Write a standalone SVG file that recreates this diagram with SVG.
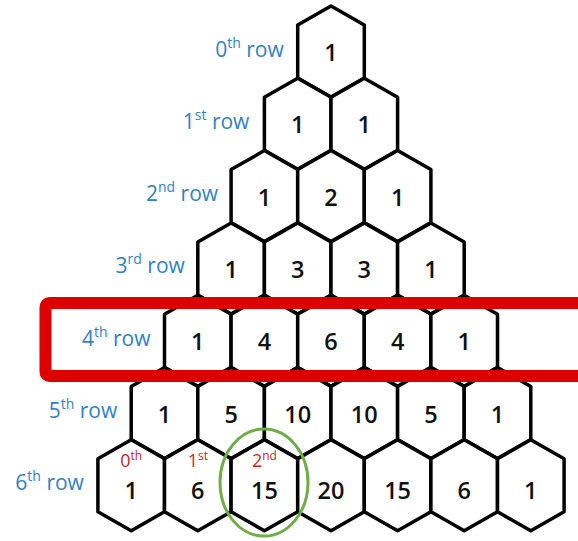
<svg xmlns="http://www.w3.org/2000/svg" width="578" height="541" viewBox="0 0 578 541">
<style>
.hex{fill:#fff;stroke:#000;stroke-width:3.5;stroke-linejoin:round}
.num{font-family:"Open Sans","Noto Sans",sans-serif;font-weight:600;font-size:23.5px;fill:#111;text-anchor:middle}
.lbl{font-family:"Open Sans","Noto Sans",sans-serif;font-size:21px;fill:#2f82c8;text-anchor:end}
.sup{font-size:14px}
.idx{font-family:"Open Sans","Noto Sans",sans-serif;font-size:18px;fill:#cc1f25;text-anchor:middle}
.isup{font-size:12px}
</style>
<defs>
<path id="hx" class="hex" d="M0,-45.5 L33.3,-26.5 L33.3,26.5 L0,45.5 L-33.3,26.5 L-33.3,-26.5 Z"/>
</defs>
<rect width="578" height="541" fill="#fff"/>

<g id="labels">
<text class="lbl" x="283.7" y="56.5">0<tspan class="sup" dy="-9">th</tspan><tspan dy="9"> row</tspan></text>
<text class="lbl" x="249.4" y="128.8">1<tspan class="sup" dy="-9">st</tspan><tspan dy="9"> row</tspan></text>
<text class="lbl" x="218.1" y="201.1">2<tspan class="sup" dy="-9">nd</tspan><tspan dy="9"> row</tspan></text>
<text class="lbl" x="184.8" y="273.4">3<tspan class="sup" dy="-9">rd</tspan><tspan dy="9"> row</tspan></text>
<text class="lbl" x="150.5" y="345.7">4<tspan class="sup" dy="-9">th</tspan><tspan dy="9"> row</tspan></text>
<text class="lbl" x="117.2" y="418">5<tspan class="sup" dy="-9">th</tspan><tspan dy="9"> row</tspan></text>
<text class="lbl" x="83.9" y="490.3">6<tspan class="sup" dy="-9">th</tspan><tspan dy="9"> row</tspan></text>
</g>

<g id="row0">
<g id="r0c0"><use href="#hx" x="331" y="51.5"/><text class="num" x="331" y="61">1</text></g>
</g>
<g id="row1">
<g id="r1c0"><use href="#hx" x="297.7" y="123.8"/><text class="num" x="297.7" y="133.3">1</text></g>
<g id="r1c1"><use href="#hx" x="364.3" y="123.8"/><text class="num" x="364.3" y="133.3">1</text></g>
</g>
<g id="row2">
<g id="r2c0"><use href="#hx" x="264.4" y="196.1"/><text class="num" x="264.4" y="205.6">1</text></g>
<g id="r2c1"><use href="#hx" x="331" y="196.1"/><text class="num" x="331" y="205.6">2</text></g>
<g id="r2c2"><use href="#hx" x="397.6" y="196.1"/><text class="num" x="397.6" y="205.6">1</text></g>
</g>
<g id="row3">
<g id="r3c0"><use href="#hx" x="231.1" y="268.4"/><text class="num" x="231.1" y="277.9">1</text></g>
<g id="r3c1"><use href="#hx" x="297.7" y="268.4"/><text class="num" x="297.7" y="277.9">3</text></g>
<g id="r3c2"><use href="#hx" x="364.3" y="268.4"/><text class="num" x="364.3" y="277.9">3</text></g>
<g id="r3c3"><use href="#hx" x="430.9" y="268.4"/><text class="num" x="430.9" y="277.9">1</text></g>
</g>
<g id="row4">
<g id="r4c0"><use href="#hx" x="197.8" y="340.7"/><text class="num" x="197.8" y="350.2">1</text></g>
<g id="r4c1"><use href="#hx" x="264.4" y="340.7"/><text class="num" x="264.4" y="350.2">4</text></g>
<g id="r4c2"><use href="#hx" x="331" y="340.7"/><text class="num" x="331" y="350.2">6</text></g>
<g id="r4c3"><use href="#hx" x="397.6" y="340.7"/><text class="num" x="397.6" y="350.2">4</text></g>
<g id="r4c4"><use href="#hx" x="464.2" y="340.7"/><text class="num" x="464.2" y="350.2">1</text></g>
</g>
<g id="row5">
<g id="r5c0"><use href="#hx" x="164.5" y="413"/><text class="num" x="164.5" y="422.5">1</text></g>
<g id="r5c1"><use href="#hx" x="231.1" y="413"/><text class="num" x="231.1" y="422.5">5</text></g>
<g id="r5c2"><use href="#hx" x="297.7" y="413"/><text class="num" x="297.7" y="422.5">10</text></g>
<g id="r5c3"><use href="#hx" x="364.3" y="413"/><text class="num" x="364.3" y="422.5">10</text></g>
<g id="r5c4"><use href="#hx" x="430.9" y="413"/><text class="num" x="430.9" y="422.5">5</text></g>
<g id="r5c5"><use href="#hx" x="497.5" y="413"/><text class="num" x="497.5" y="422.5">1</text></g>
</g>
<g id="row6">
<g id="r6c0"><use href="#hx" x="131.2" y="485.3"/><text class="idx" x="131.2" y="467">0<tspan class="isup" dy="-7">th</tspan></text><text class="num" x="131.2" y="498.5">1</text></g>
<g id="r6c1"><use href="#hx" x="197.8" y="485.3"/><text class="idx" x="197.8" y="467">1<tspan class="isup" dy="-7">st</tspan></text><text class="num" x="197.8" y="498.5">6</text></g>
<g id="r6c2"><use href="#hx" x="264.4" y="485.3"/><text class="idx" x="264.4" y="467">2<tspan class="isup" dy="-7">nd</tspan></text><text class="num" x="264.4" y="498.5">15</text></g>
<g id="r6c3"><use href="#hx" x="331" y="485.3"/><text class="num" x="331" y="498.5">20</text></g>
<g id="r6c4"><use href="#hx" x="397.6" y="485.3"/><text class="num" x="397.6" y="498.5">15</text></g>
<g id="r6c5"><use href="#hx" x="464.2" y="485.3"/><text class="num" x="464.2" y="498.5">6</text></g>
<g id="r6c6"><use href="#hx" x="530.8" y="485.3"/><text class="num" x="530.8" y="498.5">1</text></g>
</g>

<g id="highlight-row4"><rect x="45.5" y="303" width="600" height="73" rx="4" fill="none" stroke="#dd0000" stroke-width="12"/></g>
<g id="highlight-15"><ellipse cx="264" cy="482.5" rx="44" ry="53.5" fill="none" stroke="#70ad47" stroke-width="3"/></g>
</svg>
